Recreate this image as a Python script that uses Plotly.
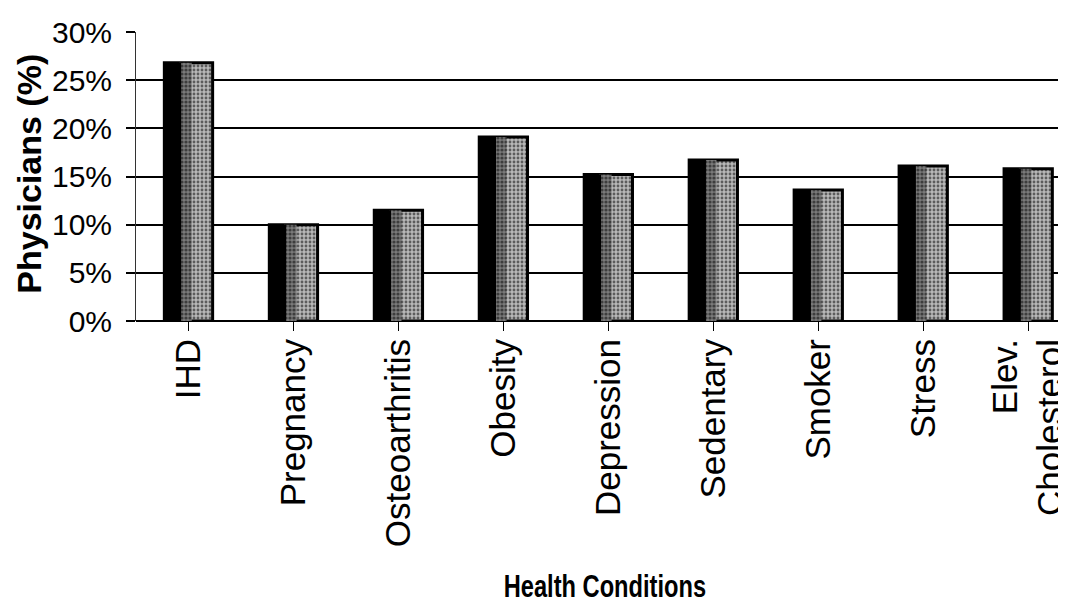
import plotly.graph_objects as go

categories = ["IHD", "Pregnancy", "Osteoarthritis", "Obesity", "Depression",
              "Sedentary", "Smoker", "Stress", "Elev.<br>Cholesterol"]
values = [26.8, 10.0, 11.5, 19.1, 15.2, 16.7, 13.6, 16.1, 15.8]
y_ticks = [0, 5, 10, 15, 20, 25, 30]
y_tick_labels = [f"{v}%" for v in y_ticks]

idx = list(range(len(categories)))
bar_w = 0.46

fig = go.Figure()
# stippled gray body
fig.add_trace(go.Bar(
    x=idx, y=values, width=bar_w, offset=-bar_w / 2,
    marker=dict(color="#a0a0a0",
                line=dict(color="black", width=3),
                pattern=dict(shape=".", fgcolor="black", bgcolor="#b8b8b8",
                             size=4, solidity=0.4, fillmode="overlay")),
    showlegend=False, hoverinfo="skip"))
# darker stipple transition
fig.add_trace(go.Bar(
    x=idx, y=values, width=0.12, offset=-bar_w / 2 + 0.14,
    marker=dict(color="#606060", line=dict(width=0),
                pattern=dict(shape=".", fgcolor="black", bgcolor="#7a7a7a",
                             size=4, solidity=0.5, fillmode="overlay")),
    showlegend=False, hoverinfo="skip"))
# dark left part of each bar
fig.add_trace(go.Bar(
    x=idx, y=values, width=0.16, offset=-bar_w / 2,
    marker=dict(color="black", line=dict(width=0)),
    showlegend=False, hoverinfo="skip"))

fig.update_layout(
    width=1058, height=597,
    barmode="overlay",
    plot_bgcolor="white", paper_bgcolor="white",
    margin=dict(l=128, r=0, t=24, b=284, autoexpand=False),
    font=dict(family="Liberation Sans, Arial, sans-serif", color="black"),
    xaxis=dict(
        range=[-0.5, 8.36],
        tickmode="array", tickvals=idx, ticktext=categories,
        tickangle=-90,
        tickfont=dict(family="Liberation Sans, Arial, sans-serif", size=35, color="black"),
        ticks="outside", tickson="boundaries", ticklen=9, tickcolor="black",
        tickwidth=1,
        ticklabelstandoff=-6,
        ticklabeloverflow="allow",
        showgrid=False, showline=False, zeroline=False,
        automargin=False,
    ),
    yaxis=dict(
        range=[0, 30],
        tickmode="array", tickvals=y_ticks, ticktext=y_tick_labels,
        tickfont=dict(family="Liberation Sans, Arial, sans-serif", size=30, color="black"),
        ticks="outside", ticklen=9, tickcolor="black", tickwidth=1.5,
        ticklabelstandoff=8,
        showgrid=True, gridcolor="black", gridwidth=1.5,
        zeroline=True, zerolinecolor="black", zerolinewidth=1.5,
        showline=True, linecolor="#333333", linewidth=1,
        automargin=False,
    ),
    annotations=[
        dict(text="<b>Physicians (%)</b>", xref="paper", yref="paper",
             x=-0.116, y=0.51, xanchor="center", yanchor="middle",
             textangle=-90, showarrow=False,
             font=dict(family="Liberation Sans, Arial, sans-serif", size=34, color="black")),
        dict(text="<b>Health Conditions</b>", xref="paper", yref="paper",
             x=0.504, y=-0.917, xanchor="center", yanchor="middle",
             showarrow=False,
             font=dict(family="Liberation Sans, Arial, sans-serif",
                       size=32, color="black")),
    ],
)

condense_js = """
var gd = document.getElementById('{plot_id}');
function condense() {
  gd.querySelectorAll('.annotation-text').forEach(function (t) {
    if (t.textContent.indexOf('Health') === 0) {
      t.style.transformBox = 'fill-box';
      t.style.transformOrigin = 'center';
      t.style.transform = 'scaleX(0.74)';
    }
  });
}
condense();
gd.on('plotly_afterplot', condense);
"""

fig.write_html("out.html", post_script=condense_js)
